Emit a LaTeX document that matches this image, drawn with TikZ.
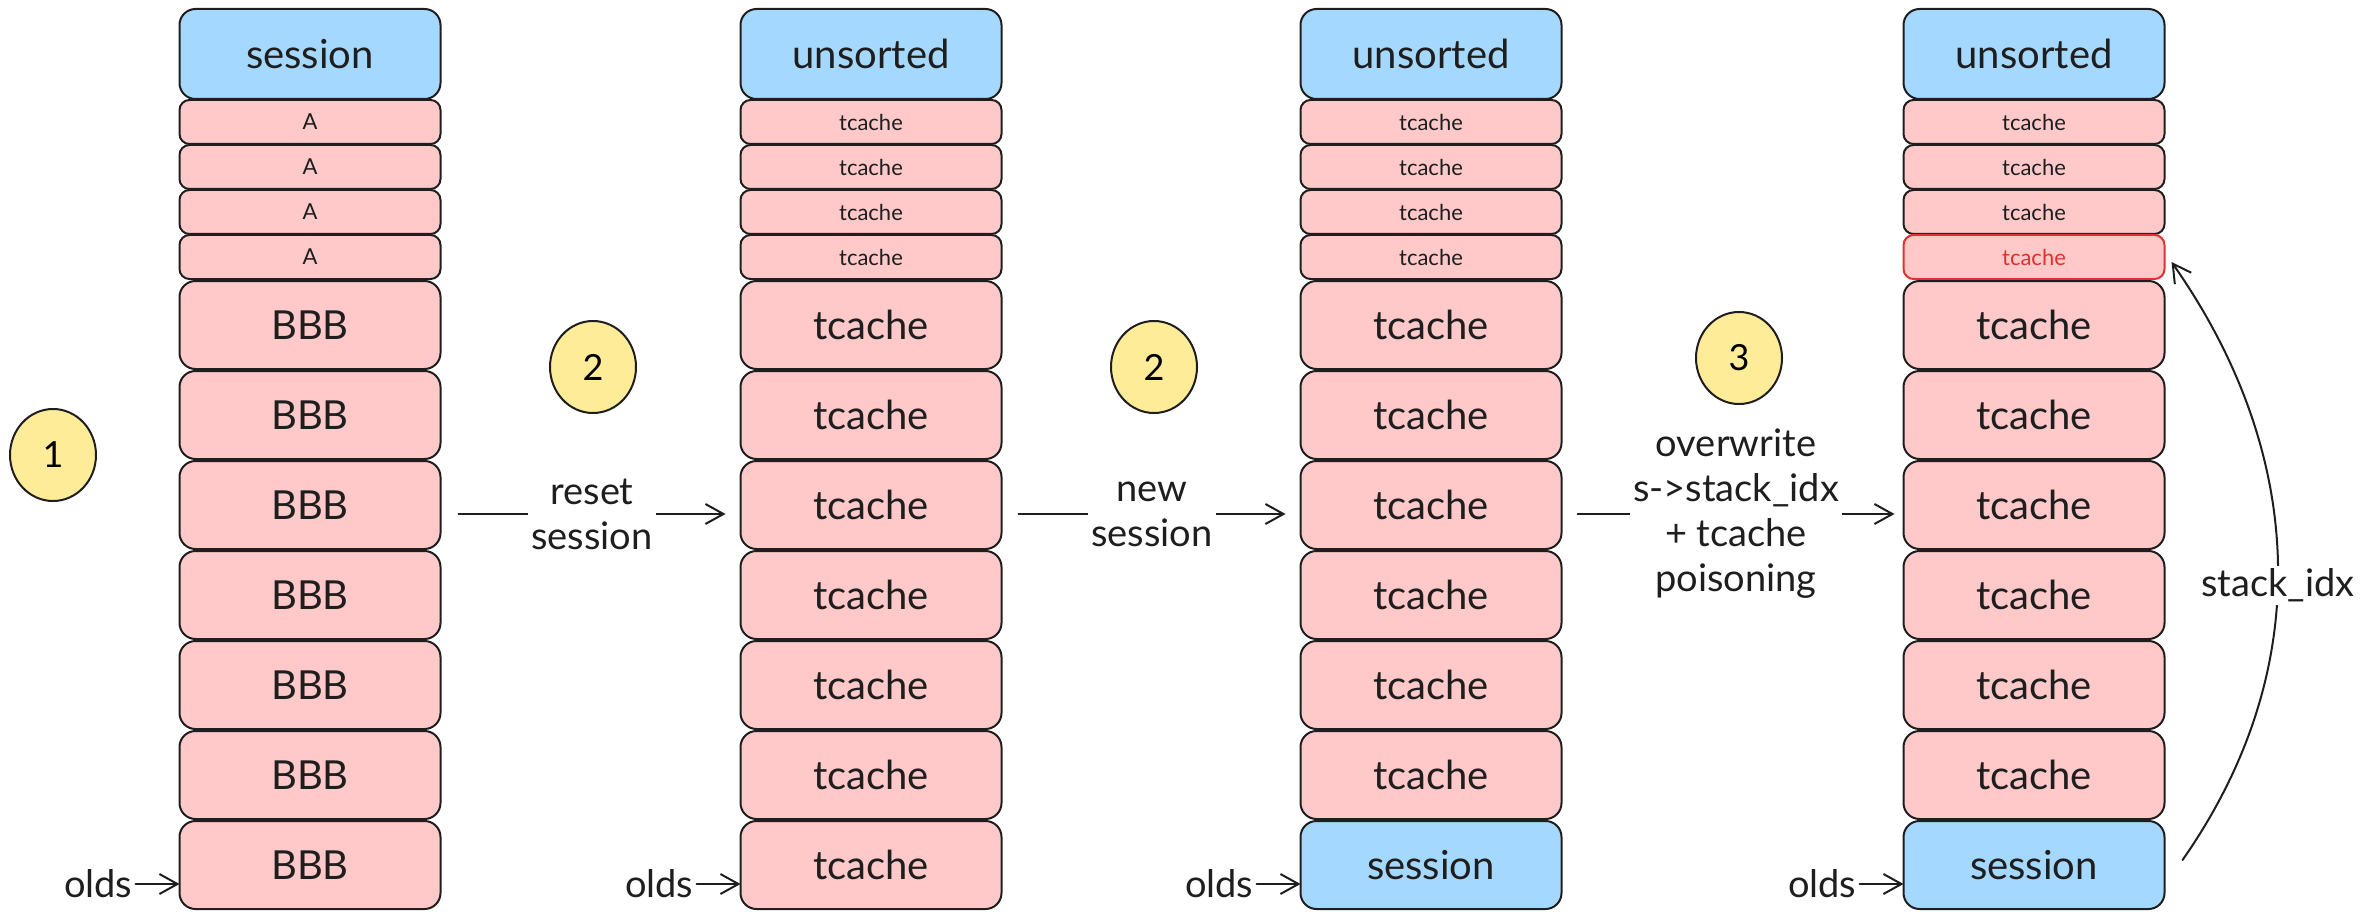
\documentclass[tikz,border=0pt]{standalone}
\usepackage{fontspec}
\setmainfont{Lato}
\usepackage{xcolor}
\usepackage{tikz}
\usetikzlibrary{positioning,arrows.meta,shapes.geometric}
\definecolor{ink}{HTML}{1E1E1E}
\definecolor{sess}{HTML}{A5D8FF}
\definecolor{chunk}{HTML}{FFC9C9}
\definecolor{note}{HTML}{FFEC99}
\definecolor{hot}{HTML}{E03131}
\tikzset{
  box/.style   ={draw=ink, line width=2pt, rounded corners=16pt, minimum width=261pt, inner sep=0pt, outer sep=0pt, align=center, text=ink},
  head/.style  ={box, fill=sess, minimum height=90pt, font=\fontsize{40}{48}\selectfont},
  big/.style   ={box, fill=chunk, minimum height=88pt, font=\fontsize{40}{48}\selectfont},
  slim/.style  ={box, fill=chunk, minimum height=44pt, rounded corners=10pt, font=\fontsize{22}{26}\selectfont},
  lbl/.style   ={font=\fontsize{38}{45}\selectfont, align=center, inner sep=3pt, text=ink},
  badge/.style ={ellipse, draw=ink, line width=2pt, fill=note, minimum width=86pt, minimum height=92pt, font=\fontsize{36}{40}\selectfont},
  arrow/.style ={-{Straight Barb[length=18pt,width=20pt]}, line width=2pt, line cap=round, draw=ink}
}

\begin{document}
\begin{tikzpicture}[x=1pt, y=-1pt]
    \useasboundingbox (0,0) rectangle (2377,920);
    % column 1
    \node[head] (a0) at (310,54) {session};
    \foreach \i [count=\j from 0] in {1,...,4} \node[slim, below=1pt of a\j] (a\i) {A};
    \foreach \i [count=\j from 4] in {5,...,11} \node[big, below=2pt of a\j] (a\i) {BBB};
    % column 2
    \node[head] (b0) at (871,54) {unsorted};
    \foreach \i [count=\j from 0] in {1,...,4} \node[slim, below=1pt of b\j] (b\i) {tcache};
    \foreach \i [count=\j from 4] in {5,...,11} \node[big, below=2pt of b\j] (b\i) {tcache};
    % column 3
    \node[head] (c0) at (1431,54) {unsorted};
    \foreach \i [count=\j from 0] in {1,...,4} \node[slim, below=1pt of c\j] (c\i) {tcache};
    \foreach \i [count=\j from 4] in {5,...,10} \node[big, below=2pt of c\j] (c\i) {tcache};
    \node[head, minimum height=88pt, below=2pt of c10] (c11) {session};
    % column 4 (poisoned entry in red)
    \node[head] (d0) at (2034,54) {unsorted};
    \foreach \i [count=\j from 0] in {1,2,3} \node[slim, below=1pt of d\j] (d\i) {tcache};
    \node[slim, draw=hot, text=hot, below=1pt of d3] (d4) {tcache};
    \foreach \i [count=\j from 4] in {5,...,10} \node[big, below=2pt of d\j] (d\i) {tcache};
    \node[head, minimum height=88pt, below=2pt of d10] (d11) {session};
    % step badges
    \node[badge] (n1) at (53,455) {1};
    \node[badge] (n2) at (593,367) {2};
    \node[badge] (n3) at (1154,367) {2};
    \node[badge] (n4) at (1739,358) {3};
    % transitions
    \draw[arrow] ([xshift=18pt,yshift=-9pt]a7.east) -- node[lbl, fill=white]{reset\\session} ([xshift=-15pt,yshift=-9pt]b7.west);
    \draw[arrow] ([xshift=17pt,yshift=-9pt]b7.east) -- node[lbl, fill=white]{new\\session} ([xshift=-15pt,yshift=-9pt]c7.west);
    \draw[arrow] ([xshift=16pt,yshift=-9pt]c7.east) -- node[lbl, fill=white]{overwrite\\s->stack\_idx\\+ tcache\\poisoning} ([xshift=-9pt,yshift=-9pt]d7.west);
    % olds pointers
    \foreach \c in {a,b,c,d} {
        \node[lbl, anchor=east] (o\c) at ([xshift=-44pt,yshift=-19pt]\c11.west) {olds};
        \draw[arrow] (o\c.east) -- (o\c.east -| \c11.west);
    }
    % stack_idx back-pointer
    \draw[arrow] ([xshift=18pt,yshift=5pt]d11.east) to[out=55,in=-55] node[lbl, fill=white, pos=0.46]{stack\_idx} ([xshift=7pt,yshift=-5pt]d4.east);
\end{tikzpicture}
\end{document}
